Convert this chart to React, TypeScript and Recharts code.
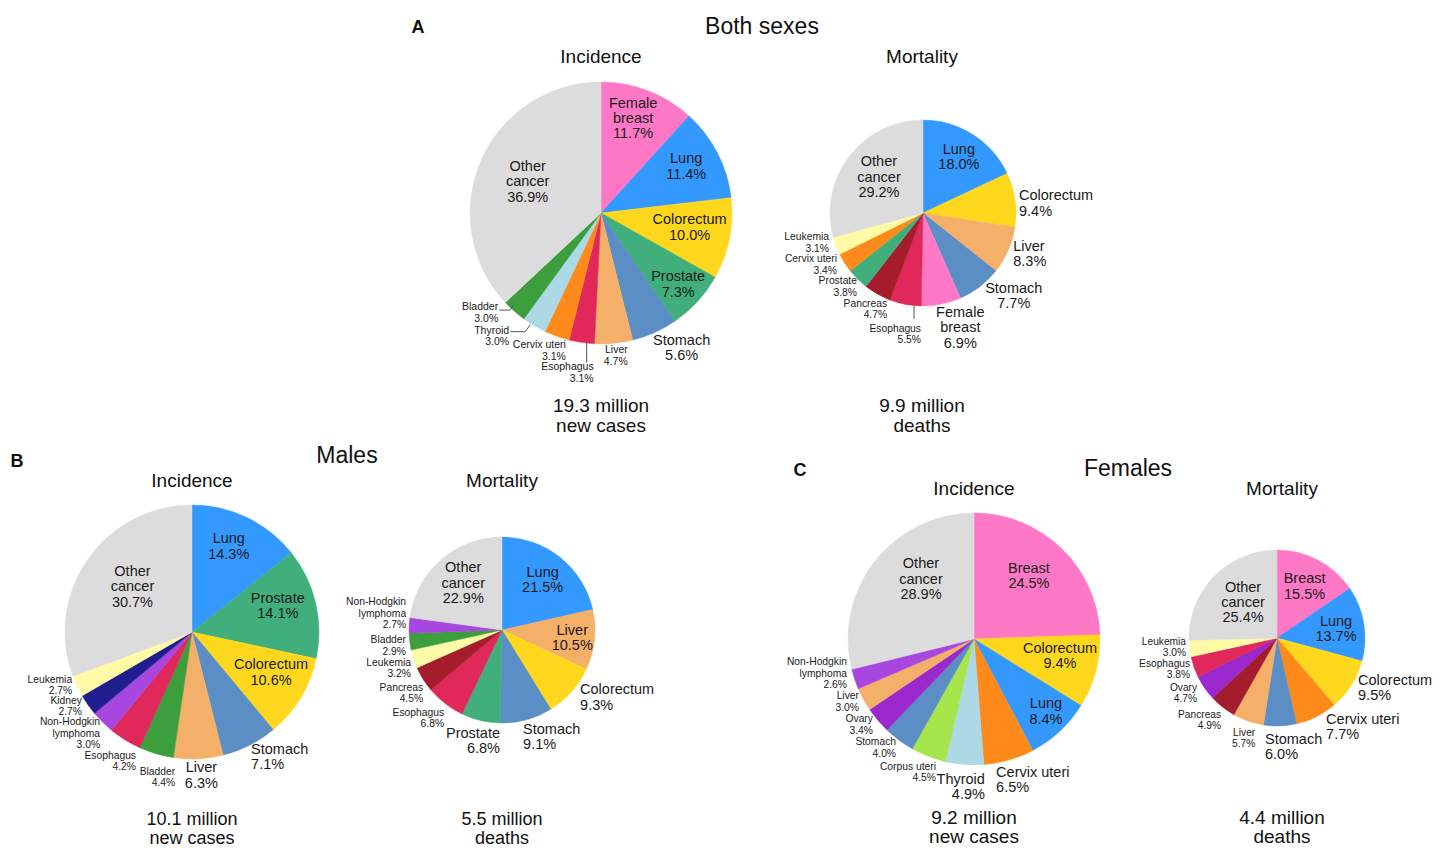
import React from 'react';
import { PieChart, Pie, Cell } from 'recharts';

// ---------- data ----------
const bothIncCategories = ['Female breast', 'Lung', 'Colorectum', 'Prostate', 'Stomach', 'Liver', 'Esophagus', 'Cervix uteri', 'Thyroid', 'Bladder', 'Other cancer'];
const bothIncValues = [11.7, 11.4, 10.0, 7.3, 5.6, 4.7, 3.1, 3.1, 3.0, 3.0, 36.9];

const bothMortCategories = ['Lung', 'Colorectum', 'Liver', 'Stomach', 'Female breast', 'Esophagus', 'Pancreas', 'Prostate', 'Cervix uteri', 'Leukemia', 'Other cancer'];
const bothMortValues = [18.0, 9.4, 8.3, 7.7, 6.9, 5.5, 4.7, 3.8, 3.4, 3.1, 29.2];

const maleIncCategories = ['Lung', 'Prostate', 'Colorectum', 'Stomach', 'Liver', 'Bladder', 'Esophagus', 'Non-Hodgkin lymphoma', 'Kidney', 'Leukemia', 'Other cancer'];
const maleIncValues = [14.3, 14.1, 10.6, 7.1, 6.3, 4.4, 4.2, 3.0, 2.7, 2.7, 30.7];

const maleMortCategories = ['Lung', 'Liver', 'Colorectum', 'Stomach', 'Prostate', 'Esophagus', 'Pancreas', 'Leukemia', 'Bladder', 'Non-Hodgkin lymphoma', 'Other cancer'];
const maleMortValues = [21.5, 10.5, 9.3, 9.1, 6.8, 6.8, 4.5, 3.2, 2.9, 2.7, 22.9];

const femaleIncCategories = ['Breast', 'Colorectum', 'Lung', 'Cervix uteri', 'Thyroid', 'Corpus uteri', 'Stomach', 'Ovary', 'Liver', 'Non-Hodgkin lymphoma', 'Other cancer'];
const femaleIncValues = [24.5, 9.4, 8.4, 6.5, 4.9, 4.5, 4.0, 3.4, 3.0, 2.6, 28.9];

const femaleMortCategories = ['Breast', 'Lung', 'Colorectum', 'Cervix uteri', 'Stomach', 'Liver', 'Pancreas', 'Ovary', 'Esophagus', 'Leukemia', 'Other cancer'];
const femaleMortValues = [15.5, 13.7, 9.5, 7.7, 6.0, 5.7, 4.9, 4.7, 3.8, 3.0, 25.4];

const totals = {
  bothInc: ['19.3 million', 'new cases'],
  bothMort: ['9.9 million', 'deaths'],
  maleInc: ['10.1 million', 'new cases'],
  maleMort: ['5.5 million', 'deaths'],
  femaleInc: ['9.2 million', 'new cases'],
  femaleMort: ['4.4 million', 'deaths'],
};

// ---------- styles ----------
const COLORS: Record<string, string> = {
  'Other cancer': '#DCDCDC',
  'Female breast': '#FF78C6',
  Breast: '#FF78C6',
  Lung: '#3399FF',
  Colorectum: '#FFD81E',
  Prostate: '#41AF7B',
  Stomach: '#5A8EC5',
  Liver: '#F4B068',
  Esophagus: '#E0285A',
  'Cervix uteri': '#FF8A1C',
  Thyroid: '#ADD8E6',
  Bladder: '#3C9E3C',
  Pancreas: '#A51C2C',
  Leukemia: '#FFFAA6',
  'Non-Hodgkin lymphoma': '#A846E0',
  Kidney: '#1E1E8E',
  Ovary: '#9A28CC',
  'Corpus uteri': '#A6E64C',
};

const FONT = '"Liberation Sans", Arial, Helvetica, sans-serif';
const TEXT = '#1a1a1a';
const SPLIT = new Set(['Female breast', 'Other cancer', 'Non-Hodgkin lymphoma']);

type Lay = { rf: number; dx: number; dy: number; anchor: 'start' | 'middle' | 'end'; big: boolean; leader?: number[][] };
const inside = (rf: number, dx = 0, dy = 0): Lay => ({ rf, dx, dy, anchor: 'middle', big: true });
const outBig = (dx: number, dy: number, anchor: 'start' | 'middle' | 'end' = 'middle'): Lay => ({ rf: 1, dx, dy, anchor, big: true });
const outSmall = (dx: number, dy: number, leader?: number[][]): Lay => ({ rf: 1, dx, dy, anchor: 'end', big: false, leader });

const bothIncLayout: Lay[] = [
  inside(0.765, -4, -1.5), inside(0.74, -1, -2.7), inside(0.69, 0, -4), inside(0.8),
  outBig(27, 15), outSmall(14, 12), outSmall(12, 30, [[5, 0], [5, 20]]), outSmall(9, 14),
  outSmall(-25, 10, [[-4, -1], [-9, 6], [-24, 6]]), outSmall(-16, 1, [[-1, -6], [-4, -1], [-15, -1]]),
  inside(0.61),
];
const bothMortLayout: Lay[] = [
  inside(0.72), outBig(4, 3.4, 'start'), outBig(5, 3.3, 'start'), outBig(34, 9), outBig(19, 23),
  outSmall(15.7, 29.7, [[8.7, 1.7], [8.7, 14.7]]), outSmall(9.7, 15), outSmall(-0.7, 7.3), outSmall(-7.5, 1.7), outSmall(-7, -3.4),
  inside(0.61, 1, -2),
];
const maleIncLayout: Lay[] = [
  inside(0.74, -4, -1.5), inside(0.71, -2, -6), inside(0.7, 3, -6), outBig(1.5, 11, 'start'), outBig(3, 16),
  outSmall(19, 22.7), outSmall(11, 21), outSmall(-2.5, 11), outSmall(-6, 1), outSmall(-5, -1.6),
  inside(0.59, 2, -3),
];
const maleMortLayout: Lay[] = [
  inside(0.7), inside(0.76), outBig(8.6, 5, 'start'), outBig(-3.4, 16.8, 'start'), outBig(19.4, 20, 'end'),
  outSmall(-1, 14), outSmall(0, 13.4), outSmall(-2.6, 8.6), outSmall(-3.7, 3.8), outSmall(-3, -12.3),
  inside(0.65, 1, -2),
];
const femaleIncLayout: Lay[] = [
  inside(0.667, -3.5, -3), inside(0.695, 1.4, -6), inside(0.81, 2.4, -2.6), outBig(-13, 19.5, 'start'), outBig(20.4, 22, 'end'),
  outSmall(7.6, 15.5), outSmall(-3, 7.2), outSmall(-4.8, 4.2), outSmall(-4.5, 2), outSmall(-7.6, -6.2),
  inside(0.635, 10, -11),
];
const femaleMortLayout: Lay[] = [
  inside(0.67), inside(0.68), outBig(6.7, 2.3, 'start'), outBig(9.6, 9.8, 'start'), outBig(-15, 20.5, 'start'),
  outSmall(7, 16.4), outSmall(-1.5, 12.4), outSmall(-7.4, 4.8), outSmall(-3.8, 2.3), outSmall(-3.6, -1.9),
  inside(0.57, 2, -1),
];

const RAD = Math.PI / 180;

function makeLabel(names: string[], layout: Lay[], smallSize: number) {
  return (props: any) => {
    const { cx, cy, midAngle, outerRadius, index, value } = props;
    const L = layout[index];
    if (!L) return null;
    const ex = cx + outerRadius * L.rf * Math.cos(-midAngle * RAD);
    const ey = cy + outerRadius * L.rf * Math.sin(-midAngle * RAD);
    const x = ex + L.dx;
    const y = ey + L.dy;
    const name = names[index];
    const nameLines = SPLIT.has(name) ? name.split(' ') : [name];
    const lines = [...nameLines, `${Number(value).toFixed(1)}%`];
    const fs = L.big ? 14.5 : smallSize;
    const lh = L.big ? 15.4 : smallSize + 1;
    const y0 = y - ((lines.length - 1) * lh) / 2 + fs * 0.35;
    return (
      <g key={`lab-${index}`}>
        {L.leader && (
          <polyline
            points={L.leader.map(([a, b]) => `${ex + a},${ey + b}`).join(' ')}
            fill="none"
            stroke="#444"
            strokeWidth={0.9}
          />
        )}
        <text textAnchor={L.anchor} fontSize={fs} fill={TEXT} fontFamily={FONT}>
          {lines.map((t, i) => (
            <tspan key={i} x={x} y={y0 + i * lh}>
              {t}
            </tspan>
          ))}
        </text>
      </g>
    );
  };
}

const toData = (names: string[], values: number[]) => names.map((n, i) => ({ name: n, value: values[i] }));

const pies = [
  { id: 'bi', names: bothIncCategories, values: bothIncValues, layout: bothIncLayout, cx: 601, cy: 213, r: 131, small: 10.5 },
  { id: 'bm', names: bothMortCategories, values: bothMortValues, layout: bothMortLayout, cx: 923, cy: 213, r: 93, small: 10.3 },
  { id: 'mi', names: maleIncCategories, values: maleIncValues, layout: maleIncLayout, cx: 192, cy: 632, r: 127, small: 10.3 },
  { id: 'mm', names: maleMortCategories, values: maleMortValues, layout: maleMortLayout, cx: 502, cy: 630, r: 93, small: 10.3 },
  { id: 'fi', names: femaleIncCategories, values: femaleIncValues, layout: femaleIncLayout, cx: 974, cy: 639, r: 126, small: 10.3 },
  { id: 'fm', names: femaleMortCategories, values: femaleMortValues, layout: femaleMortLayout, cx: 1277, cy: 638, r: 88, small: 10.2 },
];

const W = 1447;
const H = 848;

function T({ x, y, size, children, bold }: { x: number; y: number; size: number; children: React.ReactNode; bold?: boolean }) {
  return (
    <text x={x} y={y + size * 0.35} textAnchor="middle" fontSize={size} fontFamily={FONT} fill="#111" fontWeight={bold ? 700 : 400}>
      {children}
    </text>
  );
}

export default function App() {
  return (
    <div style={{ position: 'absolute', left: 0, top: 0, width: W, height: H, background: '#fff' }}>
      <PieChart width={W} height={H} margin={{ top: 0, right: 0, bottom: 0, left: 0 }}>
        {pies.map((p) => (
          <Pie
            key={p.id}
            data={toData(p.names, p.values)}
            dataKey="value"
            nameKey="name"
            cx={p.cx}
            cy={p.cy}
            outerRadius={p.r}
            innerRadius={0}
            startAngle={90}
            endAngle={-270}
            isAnimationActive={false}
            labelLine={false}
            label={makeLabel(p.names, p.layout, p.small)}
          >
            {p.names.map((n, i) => (
              <Cell key={i} fill={COLORS[n]} stroke={COLORS[n]} strokeWidth={0.5} />
            ))}
          </Pie>
        ))}
      </PieChart>
      <svg width={W} height={H} style={{ position: 'absolute', left: 0, top: 0, pointerEvents: 'none' }}>
        <T x={418} y={27} size={18} bold>A</T>
        <T x={762} y={26} size={23}>Both sexes</T>
        <T x={601} y={56} size={19}>Incidence</T>
        <T x={922} y={56} size={19}>Mortality</T>
        <T x={601} y={405} size={19}>{totals.bothInc[0]}</T>
        <T x={601} y={425} size={19}>{totals.bothInc[1]}</T>
        <T x={922} y={405} size={19}>{totals.bothMort[0]}</T>
        <T x={922} y={425} size={19}>{totals.bothMort[1]}</T>

        <T x={17} y={461} size={18} bold>B</T>
        <T x={347} y={455} size={23}>Males</T>
        <T x={192} y={480} size={19}>Incidence</T>
        <T x={502} y={480} size={19}>Mortality</T>
        <T x={192} y={819} size={18}>{totals.maleInc[0]}</T>
        <T x={192} y={837.5} size={18}>{totals.maleInc[1]}</T>
        <T x={502} y={819} size={18}>{totals.maleMort[0]}</T>
        <T x={502} y={837.5} size={18}>{totals.maleMort[1]}</T>

        <T x={800} y={470} size={18} bold>C</T>
        <T x={1128} y={468} size={23}>Females</T>
        <T x={974} y={488} size={19}>Incidence</T>
        <T x={1282} y={488} size={19}>Mortality</T>
        <T x={974} y={817} size={19}>{totals.femaleInc[0]}</T>
        <T x={974} y={836} size={19}>{totals.femaleInc[1]}</T>
        <T x={1282} y={817} size={19}>{totals.femaleMort[0]}</T>
        <T x={1282} y={836} size={19}>{totals.femaleMort[1]}</T>
      </svg>
    </div>
  );
}
